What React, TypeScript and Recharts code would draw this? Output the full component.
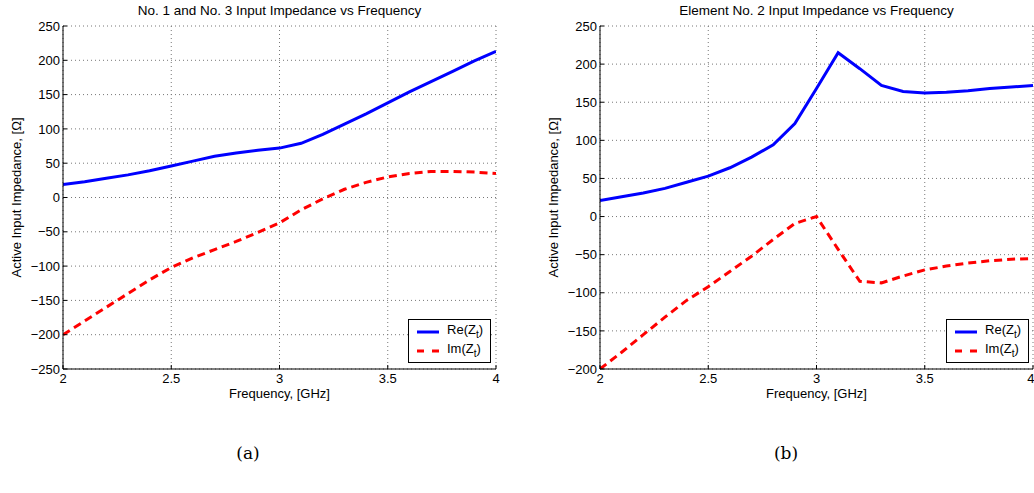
import React from 'react';
import { LineChart, Line, XAxis, YAxis, CartesianGrid, Legend } from 'recharts';

// frequency samples, GHz
const FREQ = [2.0, 2.1, 2.2, 2.3, 2.4, 2.5, 2.6, 2.7, 2.8, 2.9, 3.0, 3.1, 3.2, 3.3, 3.4, 3.5, 3.6, 3.7, 3.8, 3.9, 4.0];

// (a) elements No. 1 and No. 3
const RE_A = [19, 23, 28, 33, 39, 46, 53, 60, 65, 69, 72, 79, 92, 107, 122, 138, 154, 169, 184, 199, 213];
const IM_A = [-200, -180, -160, -140, -120, -102, -88, -76, -64, -51, -37, -18, -2, 12, 22, 30, 35, 38, 38, 37, 35];

// (b) element No. 2
const RE_B = [21, 26, 31, 37, 45, 53, 64, 78, 94, 122, 168, 215, 194, 172, 164, 162, 163, 165, 168, 170, 172];
const IM_B = [-200, -178, -155, -132, -110, -92, -72, -52, -30, -9, 0, -43, -85, -87, -78, -70, -65, -61, -58, -56, -55];

const X_TICKS = [2, 2.5, 3, 3.5, 4];
const Y_TICKS_A = [-250, -200, -150, -100, -50, 0, 50, 100, 150, 200, 250];
const Y_TICKS_B = [-200, -150, -100, -50, 0, 50, 100, 150, 200, 250];

const FONT = '"Liberation Sans", Arial, Helvetica, sans-serif';
const FS = 13;
const fmt = (v: number) => String(v).replace('-', '\u2212');

const ZLabel = ({ part }: { part: string }) => (
  <span>
    {part}(Z<sub style={{ fontSize: 10, verticalAlign: '-4px', lineHeight: 0 }}>t</sub>)
  </span>
);

const LegendBox = () => (
  <div
    style={{
      width: 81,
      height: 42,
      border: '1px solid #000',
      background: '#fff',
      fontFamily: FONT,
      fontSize: FS,
      lineHeight: '15px',
      color: '#000',
      position: 'relative',
    }}
  >
    <svg width={30} height={42} style={{ position: 'absolute', left: 0, top: 0 }}>
      <line x1={8} x2={30} y1={12} y2={12} stroke="#0000ff" strokeWidth={3} />
      <line x1={8} x2={30} y1={31} y2={31} stroke="#ff0000" strokeWidth={3} strokeDasharray="7 8" />
    </svg>
    <div style={{ position: 'absolute', left: 38, top: 2 }}>
      <ZLabel part="Re" />
    </div>
    <div style={{ position: 'absolute', left: 38, top: 21 }}>
      <ZLabel part="Im" />
    </div>
  </div>
);

interface PanelProps {
  left: number;
  width: number;
  marginLeft: number;
  title: string;
  re: number[];
  im: number[];
  yTicks: number[];
  legendLeft: number;
}

const Panel = ({ left, width, marginLeft, title, re, im, yTicks, legendLeft }: PanelProps) => {
  const data = FREQ.map((f, i) => ({ f, re: re[i], im: im[i] }));
  const yDomain = [yTicks[0], yTicks[yTicks.length - 1]];
  const plotRight = width - (left + width > 1033 ? 1 : 24);
  const plotW = plotRight - marginLeft;
  const textStyle: React.CSSProperties = {
    position: 'absolute',
    fontFamily: FONT,
    fontSize: FS,
    lineHeight: '15px',
    color: '#000',
    textAlign: 'center',
    whiteSpace: 'nowrap',
  };
  return (
    <div style={{ position: 'absolute', left, top: 0, width, height: 420 }}>
      <div style={{ ...textStyle, fontSize: 13.5, left: marginLeft, width: plotW, top: 3 }}>{title}</div>
      <div
        style={{
          ...textStyle,
          left: marginLeft - 47 - 110,
          top: 197 - 7,
          width: 220,
          transform: 'rotate(-90deg)',
        }}
      >
        Active Input Impedance, [Ω]
      </div>
      <div style={{ ...textStyle, left: marginLeft, width: plotW, top: 386 }}>Frequency, [GHz]</div>
      <LineChart
        width={width}
        height={400}
        data={data}
        margin={{ top: 26, right: width - plotRight, bottom: 1, left: marginLeft - 40 }}
        style={{ fontFamily: FONT, fontSize: FS }}
      >
        <CartesianGrid stroke="#777" strokeDasharray="1 3" />
        <XAxis
          dataKey="f"
          type="number"
          domain={[2, 4]}
          ticks={X_TICKS}
          height={30}
          stroke="#000"
          tickSize={-4}
          tickMargin={9}
          tick={{ fill: '#000', fontSize: FS }}
          allowDataOverflow
        />
        <XAxis
          xAxisId="top"
          orientation="top"
          dataKey="f"
          type="number"
          domain={[2, 4]}
          ticks={X_TICKS}
          height={0}
          stroke="#000"
          tickSize={-4}
          tick={() => <g />}
        />
        <YAxis
          type="number"
          domain={yDomain}
          ticks={yTicks}
          width={40}
          stroke="#000"
          tickSize={-4}
          tickMargin={7}
          tickFormatter={fmt}
          tick={{ fill: '#000', fontSize: FS }}
          interval={0}
          allowDataOverflow
        />
        <YAxis
          yAxisId="right"
          orientation="right"
          type="number"
          domain={yDomain}
          ticks={yTicks}
          width={0}
          stroke="#000"
          tickSize={-4}
          tick={() => <g />}
          interval={0}
        />
        <Line
          type="linear"
          dataKey="re"
          stroke="#0000ff"
          strokeWidth={3}
          dot={false}
          isAnimationActive={false}
        />
        <Line
          type="linear"
          dataKey="im"
          stroke="#ff0000"
          strokeWidth={3}
          strokeDasharray="8 5"
          dot={false}
          isAnimationActive={false}
        />
        <Legend
          layout="vertical"
          align="center"
          verticalAlign="middle"
          content={() => <LegendBox />}
          wrapperStyle={{ left: legendLeft, top: 319, width: 83, height: 44 }}
        />
      </LineChart>
    </div>
  );
};

export default function App() {
  const caption: React.CSSProperties = {
    position: 'absolute',
    top: 443,
    width: 40,
    textAlign: 'center',
    fontFamily: '"DejaVu Serif", "Liberation Serif", serif',
    fontSize: 17,
  };
  return (
    <div
      style={{
        position: 'absolute',
        left: 0,
        top: 0,
        width: 1034,
        height: 493,
        background: '#fff',
        overflow: 'hidden',
      }}
    >
      <Panel
        left={0}
        width={520}
        marginLeft={63}
        title="No. 1 and No. 3 Input Impedance vs Frequency"
        re={RE_A}
        im={IM_A}
        yTicks={Y_TICKS_A}
        legendLeft={408}
      />
      <Panel
        left={530}
        width={504}
        marginLeft={70}
        title="Element No. 2 Input Impedance vs Frequency"
        re={RE_B}
        im={IM_B}
        yTicks={Y_TICKS_B}
        legendLeft={416}
      />
      <div style={{ ...caption, left: 228 }}>(a)</div>
      <div style={{ ...caption, left: 766 }}>(b)</div>
    </div>
  );
}
